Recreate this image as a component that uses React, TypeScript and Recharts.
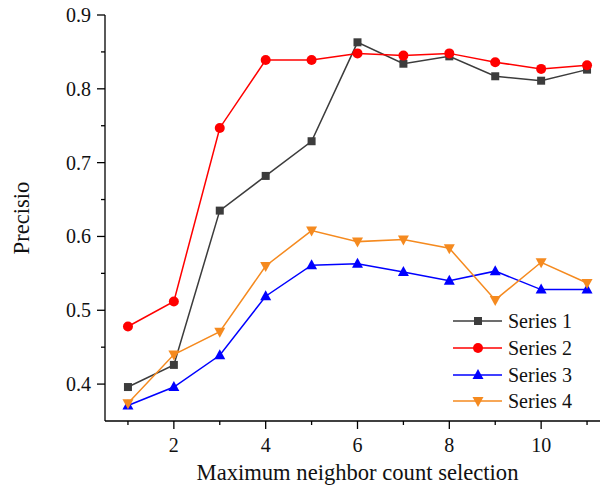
import React from "react";
import { LineChart, Line, XAxis, YAxis, Label } from "recharts";

const neighborCounts = [1, 2, 3, 4, 5, 6, 7, 8, 9, 10, 11];
const series1 = [0.396, 0.426, 0.635, 0.682, 0.729, 0.863, 0.834, 0.844, 0.817, 0.811, 0.826];
const series2 = [0.478, 0.512, 0.747, 0.839, 0.839, 0.848, 0.845, 0.848, 0.836, 0.827, 0.832];
const series3 = [0.371, 0.396, 0.439, 0.519, 0.561, 0.563, 0.552, 0.54, 0.553, 0.528, 0.528];
const series4 = [0.374, 0.44, 0.471, 0.56, 0.608, 0.593, 0.596, 0.584, 0.514, 0.565, 0.537];

const xTicks = [1, 2, 3, 4, 5, 6, 7, 8, 9, 10, 11];
const yTicks = [0.4, 0.45, 0.5, 0.55, 0.6, 0.65, 0.7, 0.75, 0.8, 0.85, 0.9];

const FONT = "'Liberation Serif', 'Times New Roman', serif";

type Shape = "square" | "circle" | "up" | "down";

const seriesConfig: { key: string; label: string; color: string; shape: Shape }[] = [
  { key: "s1", label: "Series 1", color: "#3c3c3c", shape: "square" },
  { key: "s2", label: "Series 2", color: "#ff0000", shape: "circle" },
  { key: "s3", label: "Series 3", color: "#0000ff", shape: "up" },
  { key: "s4", label: "Series 4", color: "#f58a1f", shape: "down" },
];

const data = neighborCounts.map((n, i) => ({
  n,
  s1: series1[i],
  s2: series2[i],
  s3: series3[i],
  s4: series4[i],
}));

function marker(shape: Shape, cx: number, cy: number, color: string, key?: string | number) {
  if (shape === "square") {
    return <rect key={key} x={cx - 4} y={cy - 4} width={8} height={8} fill={color} />;
  }
  if (shape === "circle") {
    return <circle key={key} cx={cx} cy={cy} r={5} fill={color} />;
  }
  if (shape === "up") {
    return (
      <polygon
        key={key}
        points={`${cx},${cy - 6} ${cx - 5.5},${cy + 4} ${cx + 5.5},${cy + 4}`}
        fill={color}
      />
    );
  }
  return (
    <polygon
      key={key}
      points={`${cx},${cy + 6} ${cx - 5.5},${cy - 4} ${cx + 5.5},${cy - 4}`}
      fill={color}
    />
  );
}

const isMajorY = (v: number) => Math.abs(v * 10 - Math.round(v * 10)) < 1e-6;

function YTick(props: any) {
  const { x, y, payload } = props;
  const major = isMajorY(payload.value);
  return (
    <g>
      <line x1={x - (major ? 8 : 4)} x2={x} y1={y} y2={y} stroke="#000" strokeWidth={1.3} />
      {major && (
        <text
          x={x - 14}
          y={y}
          dy="0.35em"
          textAnchor="end"
          fontFamily={FONT}
          fontSize={20}
          fill="#111"
        >
          {payload.value.toFixed(1)}
        </text>
      )}
    </g>
  );
}

function XTick(props: any) {
  const { x, y, payload } = props;
  const major = payload.value % 2 === 0;
  return (
    <g>
      <line x1={x} x2={x} y1={y} y2={y + (major ? 8 : 4)} stroke="#000" strokeWidth={1.3} />
      {major && (
        <text x={x} y={y + 31} textAnchor="middle" fontFamily={FONT} fontSize={20} fill="#111">
          {payload.value}
        </text>
      )}
    </g>
  );
}

function LegendBox() {
  return (
    <div
      style={{
        position: "absolute",
        left: 452,
        top: 308,
        fontFamily: FONT,
        fontSize: 20,
        color: "#111",
      }}
    >
      {seriesConfig.map((s) => (
        <div key={s.key} style={{ display: "flex", alignItems: "center", height: 26.7 }}>
          <svg width={52} height={20} style={{ display: "block" }}>
            <line x1={1} x2={50} y1={10} y2={10} stroke={s.color} strokeWidth={1.5} />
            {marker(s.shape, 26, 10, s.color)}
          </svg>
          <span style={{ marginLeft: 4, lineHeight: "20px" }}>{s.label}</span>
        </div>
      ))}
    </div>
  );
}

export default function App() {
  return (
    <div
      style={{
        position: "absolute",
        left: 0,
        top: 0,
        width: 600,
        height: 494,
        overflow: "hidden",
        background: "#fff",
      }}
    >
      <LineChart
        width={610}
        height={494}
        data={data}
        margin={{ top: 15, right: 0, bottom: 0, left: 0 }}
      >
        <XAxis
          dataKey="n"
          type="number"
          domain={[0.5, 11.5]}
          ticks={xTicks}
          height={73}
          tickSize={0}
          tickMargin={0}
          tickLine={false}
          axisLine={{ stroke: "#000", strokeWidth: 1.3 }}
          tick={<XTick />}
          interval={0}
        >
          <Label
            content={(p: any) => {
              const vb = p.viewBox;
              return (
                <text
                  x={vb.x + vb.width / 2}
                  y={vb.y + 59}
                  textAnchor="middle"
                  fontFamily={FONT}
                  fontSize={22.6}
                  fill="#111"
                >
                  Maximum neighbor count selection
                </text>
              );
            }}
          />
        </XAxis>
        <YAxis
          type="number"
          domain={[0.35, 0.9]}
          ticks={yTicks}
          width={105}
          tickSize={0}
          tickMargin={0}
          tickLine={false}
          axisLine={{ stroke: "#000", strokeWidth: 1.3 }}
          tick={<YTick />}
          interval={0}
          allowDataOverflow
        >
          <Label
            content={(p: any) => {
              const vb = p.viewBox;
              const cy = vb.y + vb.height / 2;
              return (
                <text
                  x={29}
                  y={cy}
                  transform={`rotate(-90, 29, ${cy})`}
                  textAnchor="middle"
                  fontFamily={FONT}
                  fontSize={22.6}
                  fill="#111"
                >
                  Precisio
                </text>
              );
            }}
          />
        </YAxis>
        {seriesConfig.map((s) => (
          <Line
            key={s.key}
            type="linear"
            dataKey={s.key}
            stroke={s.color}
            strokeWidth={1.5}
            isAnimationActive={false}
            activeDot={false}
            dot={(p: any) => marker(s.shape, p.cx, p.cy, s.color, `${s.key}-${p.index}`)}
          />
        ))}
      </LineChart>
      <LegendBox />
    </div>
  );
}
